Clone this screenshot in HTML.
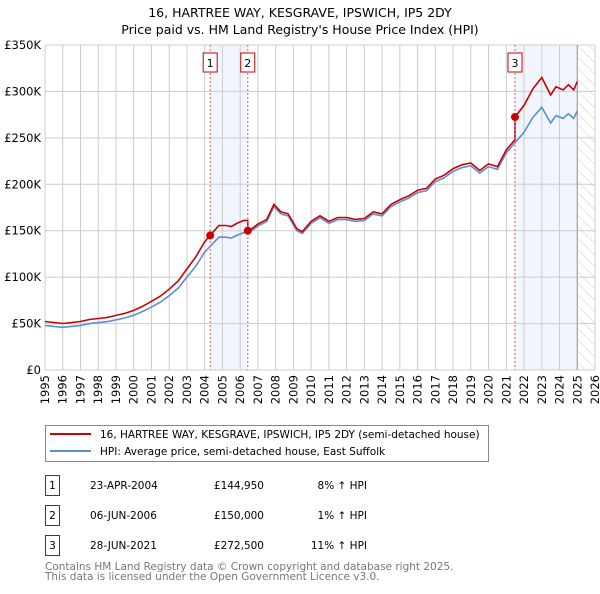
<!DOCTYPE html>
<html><head><meta charset="utf-8"><style>
body{margin:0;background:#fff;width:600px;height:590px;overflow:hidden;font-family:"DejaVu Sans","Liberation Sans",sans-serif}
svg text{font-family:"DejaVu Sans","Liberation Sans",sans-serif}
</style></head><body>
<svg id="chart" width="600" height="590" xmlns="http://www.w3.org/2000/svg">
<defs><pattern id="hatch" width="8" height="8" patternUnits="userSpaceOnUse" patternTransform="rotate(-45)"><line x1="0" y1="0" x2="0" y2="8" stroke="#ccc" stroke-width="1"/></pattern></defs>
<text x="300" y="17" text-anchor="middle" font-size="12.5">16, HARTREE WAY, KESGRAVE, IPSWICH, IP5 2DY</text>
<text x="300" y="34" text-anchor="middle" font-size="12.5">Price paid vs. HM Land Registry's House Price Index (HPI)</text>
<g id="bg"></g><g id="grid"></g><g id="series"></g><g id="marks"></g>
<rect x="45.5" y="425.5" width="443" height="36" fill="#fff" stroke="#888"/>
<line x1="50" y1="434" x2="91" y2="434" stroke="#cc0000" stroke-width="2"/>
<text x="100" y="438" font-size="10.5">16, HARTREE WAY, KESGRAVE, IPSWICH, IP5 2DY (semi-detached house)</text>
<line x1="50" y1="451" x2="91" y2="451" stroke="#5b8fd4" stroke-width="2"/>
<text x="100" y="455" font-size="10.5">HPI: Average price, semi-detached house, East Suffolk</text>
<g id="table" font-size="10.5"></g>
<text x="45" y="570" font-size="10.5" fill="#777">Contains HM Land Registry data © Crown copyright and database right 2025.</text>
<text x="45" y="580" font-size="10.5" fill="#777">This data is licensed under the Open Government Licence v3.0.</text>
</svg>
<script>
const hpiYears=[1995,1995.5,1996,1996.5,1997,1997.5,1998,1998.5,1999,1999.5,2000,2000.5,2001,2001.5,2002,2002.5,2003,2003.5,2004,2004.5,2004.8,2005.2,2005.5,2005.8,2006.2,2006.5,2007,2007.5,2007.9,2008.3,2008.7,2009.2,2009.5,2010,2010.5,2011,2011.5,2012,2012.5,2013,2013.5,2014,2014.5,2015,2015.5,2016,2016.5,2017,2017.5,2018,2018.5,2019,2019.5,2020,2020.5,2021,2021.5,2022,2022.5,2023,2023.5,2023.8,2024.2,2024.5,2024.8,2025];
const hpiValues=[48000,47000,46000,47000,48000,50000,51000,52000,54000,56000,59000,63000,68000,73000,80000,88000,100000,112000,127000,137000,143000,143000,142000,145000,148000,148000,155000,160000,176000,168000,166000,150000,147000,158000,164000,158000,162000,162000,160000,161000,168000,166000,176000,181000,185000,191000,193000,203000,207000,214000,218000,220000,212000,219000,216000,234000,245000,256000,272000,283000,266000,274000,271000,276000,271000,279000];
const saleLabels=["1","2","3"];
const saleYears=[2004.31,2006.43,2021.49];
const salePrices=[144950,150000,272500];
const saleDates=["23-APR-2004","06-JUN-2006","28-JUN-2021"];
const salePriceText=["£144,950","£150,000","£272,500"];
const saleHpiText=["8% ↑ HPI","1% ↑ HPI","11% ↑ HPI"];
const yTicks=[0,50000,100000,150000,200000,250000,300000,350000];
const yTickLabels=["£0","£50K","£100K","£150K","£200K","£250K","£300K","£350K"];
const xTicks=[1995,1996,1997,1998,1999,2000,2001,2002,2003,2004,2005,2006,2007,2008,2009,2010,2011,2012,2013,2014,2015,2016,2017,2018,2019,2020,2021,2022,2023,2024,2025,2026];
const dataEnd=2025.0;
const NS="http://www.w3.org/2000/svg";
const X0=45,X1=595,Y0=370,Y1=45;
const xS=y=>X0+(y-1995)/(2026-1995)*(X1-X0);
const yS=v=>Y0-v/350000*(Y0-Y1);
function mk(tag,attrs,parent){const e=document.createElementNS(NS,tag);for(const k in attrs)e.setAttribute(k,attrs[k]);parent.appendChild(e);return e;}
function hpiAt(t){for(let i=0;i<hpiYears.length-1;i++){if(t<=hpiYears[i+1]){const f=(t-hpiYears[i])/(hpiYears[i+1]-hpiYears[i]);return hpiValues[i]+f*(hpiValues[i+1]-hpiValues[i]);}}return hpiValues[hpiValues.length-1];}
const bg=document.getElementById('bg'),grid=document.getElementById('grid'),ser=document.getElementById('series'),marks=document.getElementById('marks'),tbl=document.getElementById('table');
let r=mk('rect',{x:xS(saleYears[0]),y:Y1,width:xS(saleYears[1])-xS(saleYears[0]),height:Y0-Y1,fill:'#eef3fc',opacity:0.8},bg);

r=mk('rect',{x:xS(saleYears[2]),y:Y1,width:xS(dataEnd)-xS(saleYears[2]),height:Y0-Y1,fill:'#eef3fc',opacity:0.8},bg);

r=mk('rect',{x:xS(dataEnd),y:Y1,width:X1-xS(dataEnd),height:Y0-Y1,fill:'url(#hatch)'},bg);

yTicks.forEach((v,i)=>{
 const l=mk('line',{x1:X0,x2:X1,y1:yS(v),y2:yS(v),stroke:'#ccc'},grid);
 
 const t=mk('text',{x:X0-4,y:yS(v)+4,'text-anchor':'end','font-size':'11.5'},grid);t.textContent=yTickLabels[i];
 
});
xTicks.forEach(y=>{
 const l=mk('line',{x1:xS(y),x2:xS(y),y1:Y1,y2:Y0,stroke:'#ccc'},grid);
 
 const t=mk('text',{transform:`translate(${xS(y)+4},${Y0+5}) rotate(-90)`,'text-anchor':'end','font-size':'11.5'},grid);t.textContent=y;
 
});
let el=mk('line',{x1:xS(dataEnd),x2:xS(dataEnd),y1:Y1,y2:Y0,stroke:'#999'},grid);

const hp=hpiYears.map((y,i)=>`${xS(y).toFixed(1)},${yS(hpiValues[i]).toFixed(1)}`).join(' ');
el=mk('polyline',{points:hp,fill:'none',stroke:'#5b8fd4','stroke-width':1.6},ser);

function factorAt(t){let k=0;for(let i=0;i<saleYears.length;i++)if(t>=saleYears[i])k=i;return salePrices[k]/hpiAt(saleYears[k]);}
const pts=[];const ts=hpiYears.concat(saleYears).concat(saleYears.map(s=>s-0.001)).sort((a,b)=>a-b);
ts.forEach(t=>{pts.push(`${xS(t).toFixed(1)},${yS(hpiAt(t)*factorAt(t)).toFixed(1)}`);});
el=mk('polyline',{points:pts.join(' '),fill:'none',stroke:'#cc0000','stroke-width':1.6},ser);

saleYears.forEach((y,i)=>{
 const l=mk('line',{x1:xS(y),x2:xS(y),y1:Y1,y2:Y0,stroke:'#e06060','stroke-dasharray':'2,2'},marks);
 
 const c=mk('circle',{cx:xS(y),cy:yS(salePrices[i]),r:4,fill:'#cc0000'},marks);
 
 const b=mk('rect',{x:xS(y)-7,y:53,width:14,height:19,fill:'#fff',stroke:'#cc0000'},marks);
 
 const t=mk('text',{x:xS(y),y:67,'text-anchor':'middle','font-size':'11'},marks);t.textContent=saleLabels[i];
 
 const ry=475+i*30;
 const tb=mk('rect',{x:45.5,y:ry+0.5,width:14,height:20,fill:'#fff',stroke:'#cc0000'},tbl);
 
 const cells=[[52.5,saleLabels[i],'middle'],[90,saleDates[i],'start'],[264,salePriceText[i],'end'],[367,saleHpiText[i],'end']];
 cells.forEach(c2=>{const tt=mk('text',{x:c2[0],y:ry+14,'text-anchor':c2[2]},tbl);tt.textContent=c2[1];
  });
});
</script>
</body></html>
